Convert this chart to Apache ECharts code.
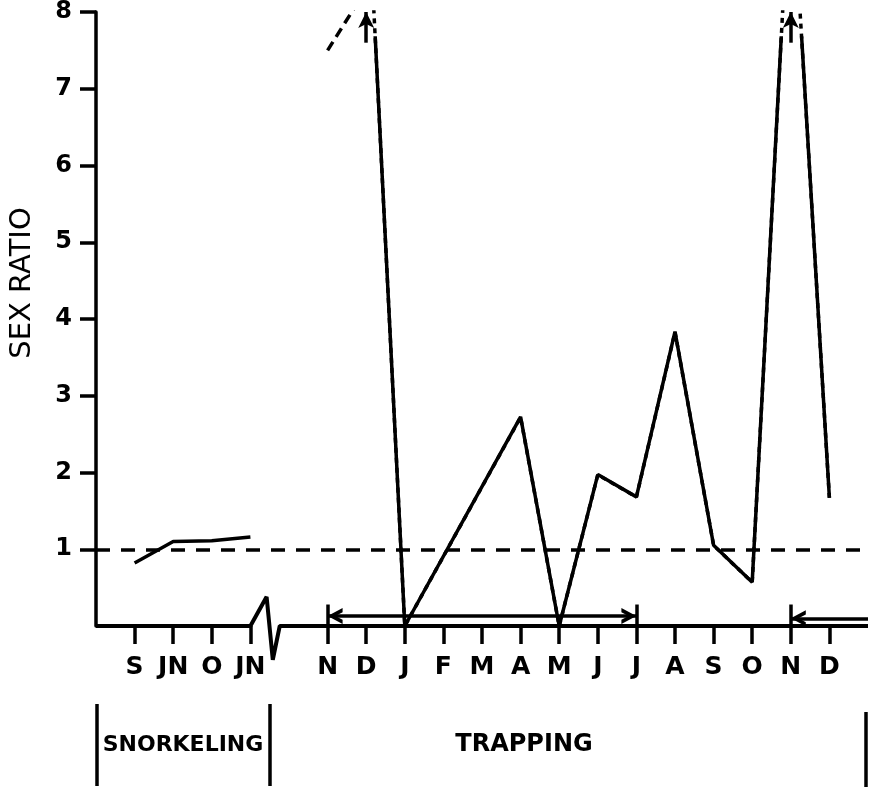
<!DOCTYPE html>
<html>
<head>
<meta charset="utf-8">
<script src="https://cdn.jsdelivr.net/npm/echarts@6/dist/echarts.min.js"></script>
<style>
  html, body { margin: 0; padding: 0; background: #fff; }
  #chart { width: 871px; height: 787px; }
</style>
</head>
<body>
<div id="chart"></div>
<script>
// Month slots on the time axis, one unit per month; slot 4 is the break between the two surveys
const monthPos = [0, 1, 2, 3, 5, 6, 7, 8, 9, 10, 11, 12, 13, 14, 15, 16, 17, 18];
const monthLabels = ['S', 'JN', 'O', 'JN', 'N', 'D', 'J', 'F', 'M', 'A', 'M', 'J', 'J', 'A', 'S', 'O', 'N', 'D'];
const ratioTicks = [1, 2, 3, 4, 5, 6, 7, 8];

// Snorkeling counts: [month slot, sex ratio]
const snorkelRatio = [[0, 0.82], [1, 1.1], [2, 1.11], [3, 1.16]];
// Trapping: [month slot, sex ratio]; 10 stands for a ratio above the scale
const trapRatio = [[6, 10], [7, 0], [10, 2.72], [11, 0], [12, 1.97], [13, 1.68], [14, 3.83], [15, 1.05], [16, 0.57], [17, 10], [18, 1.67]];
// Uncertain November-December trapping segment
const trapUncertain = [[5, 7.5], [6, 8.3]];
// Months whose ratio runs off the top of the scale
const offScaleMonths = [6, 17];
// Trapping periods along the axis
const periodStart = [5, 17];
const periodEnd = [13, 19];
const periodClosed = [true, false];
const periodLevel = [0.13, 0.1];
// Time axis baseline with the break mark between surveys
const baselinePath = [[-1, 0], [3, 0], [3.42, 0.38], [3.58, -0.44], [3.76, 0], [19, 0]];

const INK = '#000';
const FONT = 'DejaVu Sans';
// open arrowhead; the empty sub-path keeps the tip at the symbol's centre
const CHEVRON = 'path://M5,-10 L5.01,-10 Z M0,10 L5,0 L10,10 L7.4,10 L5,5.2 L2.6,10 Z';
const LW = 3.5;

const chart = echarts.init(document.getElementById('chart'), null, { renderer: 'canvas' });

// annotation lines: off-scale arrows and trapping periods
const periodMarks = [];
periodStart.forEach((s, i) => {
  const e = periodEnd[i];
  const lv = periodLevel[i];
  periodMarks.push([
    { coord: [s, lv], symbol: CHEVRON },
    { coord: [e, lv], symbol: periodClosed[i] ? CHEVRON : 'none' }
  ]);
  periodMarks.push([{ coord: [s, 0.28], symbol: 'none' }, { coord: [s, 0], symbol: 'none' }]);
  if (periodClosed[i]) {
    periodMarks.push([{ coord: [e, 0.28], symbol: 'none' }, { coord: [e, 0], symbol: 'none' }]);
  }
});
const arrowMarks = offScaleMonths.map(m => [
  { coord: [m, 7.6], symbol: 'none' },
  { coord: [m, 8], symbol: 'arrow' }
]);

const markBase = {
  silent: true, animation: false,
  label: { show: false },
  emphasis: { disabled: true }
};

const option = {
  animation: false,
  backgroundColor: '#fff',
  grid: [
    { left: 96, right: 3, top: 11, bottom: 161 },
    { left: 96, right: 3, top: 38, bottom: 161 }
  ],
  xAxis: [
    {
      type: 'value', gridIndex: 0, min: -1, max: 19,
      axisLine: { show: false, onZero: false },
      splitLine: { show: false },
      axisTick: { show: true, customValues: monthPos, length: 18, lineStyle: { color: INK, width: LW } },
      axisLabel: {
        customValues: monthPos,
        formatter: v => monthLabels[monthPos.indexOf(v)],
        margin: 29, fontFamily: FONT, fontWeight: 'bold', fontSize: 25, color: INK
      }
    },
    { type: 'value', gridIndex: 1, min: -1, max: 19, show: false }
  ],
  yAxis: [
    {
      type: 'value', gridIndex: 0, min: 0, max: 8, interval: 1,
      axisLine: { show: true, onZero: false, lineStyle: { color: INK, width: LW } },
      axisTick: { show: true, customValues: ratioTicks, length: 16, lineStyle: { color: INK, width: LW } },
      axisLabel: {
        customValues: ratioTicks,
        formatter: v => String(v),
        margin: 24, fontFamily: FONT, fontWeight: 'bold', fontSize: 24, color: INK
      },
      splitLine: { show: false }
    },
    { type: 'value', gridIndex: 1, min: 0, max: 7.65, show: false }
  ],
  series: [
    {
      name: 'baseline', type: 'line', xAxisIndex: 0, yAxisIndex: 0,
      data: baselinePath, symbol: 'none', clip: false, silent: true,
      lineStyle: { color: INK, width: 4 }
    },
    {
      name: 'snorkeling', type: 'line', xAxisIndex: 0, yAxisIndex: 0,
      data: snorkelRatio, symbol: 'none', silent: true,
      lineStyle: { color: INK, width: LW },
      markLine: Object.assign({}, markBase, {
        symbol: 'none',
        lineStyle: { type: [14, 11], width: LW, color: INK },
        data: [{ yAxis: 1 }]
      })
    },
    {
      // broken top of the off-scale excursions
      name: 'trapping-top', type: 'line', xAxisIndex: 0, yAxisIndex: 0,
      data: trapRatio, symbol: 'none', clip: true, silent: true,
      lineStyle: { color: INK, width: LW, type: [5, 5] }
    },
    {
      name: 'trapping', type: 'line', xAxisIndex: 1, yAxisIndex: 1,
      data: trapRatio, symbol: 'none', clip: true, silent: true,
      lineStyle: { color: INK, width: LW }
    },
    {
      name: 'trapping-uncertain', type: 'line', xAxisIndex: 0, yAxisIndex: 0,
      data: trapUncertain, symbol: 'none', clip: true, silent: true,
      lineStyle: { color: INK, width: LW, type: [10, 6] }
    },
    {
      name: 'periods', type: 'line', xAxisIndex: 0, yAxisIndex: 0,
      data: [], clip: false, silent: true,
      markLine: Object.assign({}, markBase, {
        symbol: 'none', symbolSize: [16, 30],
        lineStyle: { color: INK, width: LW, type: 'solid' },
        data: periodMarks
      })
    },
    {
      name: 'off-scale', type: 'line', xAxisIndex: 0, yAxisIndex: 0,
      data: [], clip: false, silent: true,
      markLine: Object.assign({}, markBase, {
        symbol: 'none', symbolSize: [12, 16],
        lineStyle: { color: INK, width: LW, type: 'solid' },
        data: arrowMarks
      })
    }
  ],
  graphic: [
    {
      type: 'text', x: 22, y: 283, rotation: Math.PI / 2,
      style: { text: 'SEX RATIO', fill: INK, font: 'normal 29px "DejaVu Sans"', align: 'center', verticalAlign: 'middle' }
    },
    { type: 'line', shape: { x1: 97, y1: 704, x2: 97, y2: 786 }, style: { stroke: INK, lineWidth: 3.5 } },
    { type: 'line', shape: { x1: 270, y1: 704, x2: 270, y2: 786 }, style: { stroke: INK, lineWidth: 3.5 } },
    { type: 'line', shape: { x1: 866, y1: 712, x2: 866, y2: 787 }, style: { stroke: INK, lineWidth: 3.5 } },
    {
      type: 'text', x: 183, y: 745,
      style: { text: 'SNORKELING', fill: INK, font: 'bold 22px "DejaVu Sans"', align: 'center', verticalAlign: 'middle' }
    },
    {
      type: 'text', x: 524, y: 745,
      style: { text: 'TRAPPING', fill: INK, font: 'bold 24px "DejaVu Sans"', align: 'center', verticalAlign: 'middle' }
    }
  ]
};

chart.setOption(option);
</script>
</body>
</html>
